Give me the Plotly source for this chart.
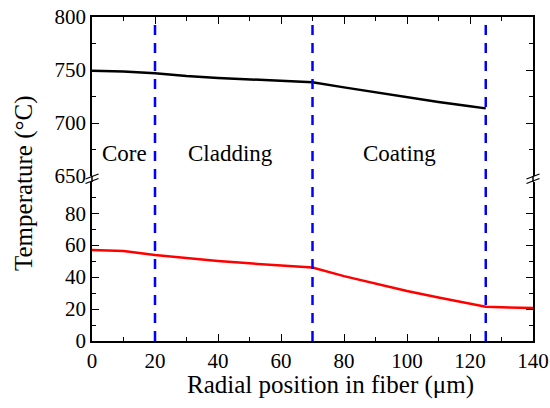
import plotly.graph_objects as go

# ---- data ----
x_black = [0, 10, 20, 30, 40, 50, 60, 70, 80, 90, 100, 110, 120, 125]
t_black = [749.2, 748.6, 746.9, 744.3, 742.5, 741.0, 739.6, 738.4,
           733.6, 728.9, 724.2, 719.9, 715.8, 713.8]
x_red = [0, 10, 20, 30, 40, 50, 60, 70, 80, 90, 100, 110, 120, 125, 130, 140]
t_red = [57.0, 56.3, 53.8, 51.9, 50.1, 48.6, 47.2, 46.0,
         40.6, 35.8, 31.3, 27.2, 23.3, 21.4, 21.1, 20.6]
boundaries = [20, 70, 125]
region_names = ["Core", "Cladding", "Coating"]
region_x = [10.2, 44.1, 97.5]
region_y = [671.5, 671.5, 671.5]

FONT = "serif"
W, H = 550, 408
L, R, T, B = 92, 17, 17, 67
PW, PH = W - L - R, H - T - B

def py(Y):  # pixel Y -> paper y
    return (H - B - Y) / PH

def px(X):
    return (X - L) / PW

fig = go.Figure()
fig.add_trace(go.Scatter(x=x_black, y=t_black, mode="lines",
                         line=dict(color="black", width=2.5),
                         xaxis="x2", yaxis="y2", showlegend=False))
fig.add_trace(go.Scatter(x=x_red, y=t_red, mode="lines",
                         line=dict(color="#ff0000", width=2.5),
                         xaxis="x", yaxis="y", showlegend=False))

shapes = []
for b in boundaries:
    shapes.append(dict(type="line", xref="x", yref="paper", x0=b, x1=b, y0=0, y1=1,
                       line=dict(color="#0000ff", width=2.5, dash="10px,8px")))
gap_lo, gap_hi = py(182), py(176)
for xp in [0, 1]:
    shapes.append(dict(type="line", xref="paper", yref="paper", x0=xp, x1=xp,
                       y0=gap_lo, y1=gap_hi, line=dict(color="black", width=1.5)))
    for yc in [176.5, 181.0]:
        shapes.append(dict(type="line", xref="paper", yref="paper",
                           x0=xp - 6.5 / PW, x1=xp + 6.5 / PW,
                           y0=py(yc + 2.5), y1=py(yc - 2.5),
                           line=dict(color="black", width=1.3)))

ann = []
for name, xx, yy in zip(region_names, region_x, region_y):
    ann.append(dict(text=name, x=xx, y=yy, xref="x2", yref="y2", showarrow=False,
                    font=dict(family=FONT, size=23, color="black")))
ann.append(dict(text="Radial position in fiber (μm)", x=px(330), y=py(385),
                xref="paper", yref="paper", showarrow=False,
                xanchor="center", yanchor="middle",
                font=dict(family=FONT, size=25, color="black")))
ann.append(dict(text="Temperature (°C)", x=px(24), y=py(183), textangle=-90,
                xref="paper", yref="paper", showarrow=False,
                xanchor="center", yanchor="middle",
                font=dict(family=FONT, size=25, color="black")))

def axstyle():
    return dict(showline=True, linecolor="black", linewidth=1.5, ticks="inside",
                tickcolor="black", ticklen=7, tickwidth=1.2, showgrid=False,
                zeroline=False, automargin=False,
                tickfont=dict(family=FONT, size=21, color="black"))

fig.update_layout(
    width=W, height=H, margin=dict(l=L, r=R, t=T, b=B, autoexpand=False),
    paper_bgcolor="white", plot_bgcolor="white",
    font=dict(family=FONT, color="black"),
    shapes=shapes, annotations=ann,
    xaxis=dict(range=[0, 140], dtick=20, anchor="y",
               minor=dict(dtick=10, ticks="inside", ticklen=4, tickcolor="black"),
               **axstyle()),
    xaxis2=dict(range=[0, 140], dtick=20, anchor="y2", side="top", matches="x",
                showticklabels=False,
                minor=dict(dtick=10, ticks="inside", ticklen=4, tickcolor="black"),
                **axstyle()),
    yaxis=dict(range=[0, 99.5], domain=[0, py(182)], tickvals=[0, 20, 40, 60, 80],
               mirror="ticks",
               minor=dict(tickvals=[10, 30, 50, 70, 90], ticks="inside", ticklen=4,
                          tickcolor="black"),
               **axstyle()),
    yaxis2=dict(range=[650, 800], domain=[py(176), 1], tickvals=[650, 700, 750, 800],
                mirror="ticks",
                minor=dict(tickvals=[675, 725, 775], ticks="inside", ticklen=4,
                           tickcolor="black"),
                **axstyle()),
)

fig.write_html("out.html")
